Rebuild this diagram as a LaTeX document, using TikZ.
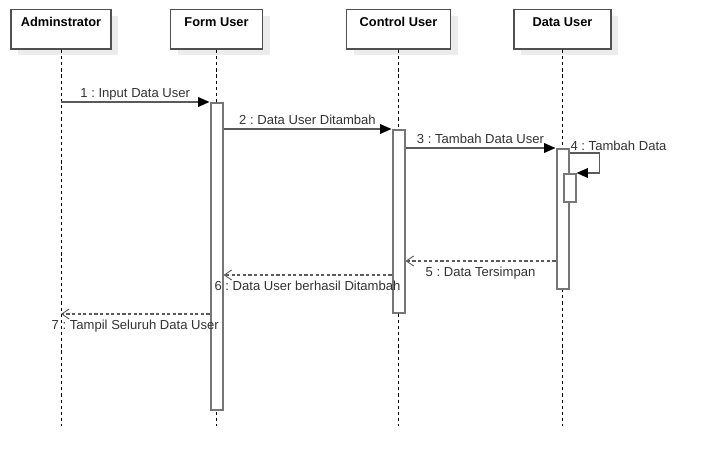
\documentclass[tikz,border=0pt]{standalone}
\usepackage{fontspec}
\setmainfont{Liberation Sans}
\definecolor{headgray}{RGB}{80, 80, 80}
\definecolor{bargray}{RGB}{118, 118, 118}
\definecolor{msggray}{RGB}{90, 90, 90}
\definecolor{textgray}{RGB}{51, 51, 51}
\definecolor{shadowgray}{RGB}{236, 236, 236}
\usetikzlibrary{arrows.meta, positioning, calc, shadows}
\frenchspacing

\begin{document}
\begin{tikzpicture}[x=0.75pt, y=-0.75pt,
    head/.style={draw=headgray, line width=1.1pt, fill=white, font=\fontsize{9.6}{11}\selectfont\bfseries,
      minimum height=29.6pt, inner xsep=0pt, inner ysep=5pt, text height=7.8pt, text depth=11.8pt,
      drop shadow={shadow xshift=5.25pt, shadow yshift=-4.5pt, fill=shadowgray, opacity=1}},
    lifeline/.style={black, line width=0.6pt, dash pattern=on 2.4pt off 2.2pt},
    bar/.style={draw=bargray, line width=1.5pt, fill=white, minimum width=9pt, inner sep=0pt},
    msg/.style={msggray, line width=1pt, -{Triangle[length=8.5pt, width=7.2pt, black]}},
    reply/.style={msggray, line width=1pt, dash pattern=on 2.4pt off 1.8pt, -{Straight Barb[length=5.5pt, width=7.5pt, line width=0.7pt]}},
    lbl/.style={text=textgray, font=\fontsize{9.8}{11}\selectfont, inner sep=0.6pt}]
  \useasboundingbox (0, 0) rectangle (704, 466);

  % Lifeline heads
  \node[head, minimum width=75pt] (admin) at (61, 29.5) {Adminstrator};
  \node[head, minimum width=69pt] (form) at (216.5, 29.5) {Form User};
  \node[head, minimum width=78pt] (ctrl) at (398.5, 29.5) {Control User};
  \node[head, minimum width=72.75pt] (data) at (562.5, 29.5) {Data User};

  % Lifelines
  \foreach \obj in {admin, form, ctrl, data} {
    \coordinate (\obj end) at ($(\obj.south) + (0, 376)$);
    \draw[lifeline] (\obj.south) -- (\obj end);
  }

  % Activation bars
  \node[bar, minimum height=230.25pt] (formbar) at (216.5, 256.5) {};
  \node[bar, minimum height=137.25pt] (ctrlbar) at (398.5, 221.5) {};
  \node[bar, minimum height=105pt] (databar) at (562.5, 219) {};
  \node[bar, minimum height=21pt] (subbar) at (569.5, 188) {};

  % Messages
  \draw[msg] (adminend |- formbar.north) -- (formbar.north west)
    node[lbl, midway, anchor=base, yshift=3pt] {1 : Input Data User};
  \draw[msg] (formbar.east |- ctrlbar.north) -- (ctrlbar.north west)
    node[lbl, midway, anchor=base, yshift=3pt] {2 : Data User Ditambah};
  \draw[msg] (ctrlbar.east |- databar.north) -- (databar.north west)
    node[lbl, midway, anchor=base, yshift=3pt] {3 : Tambah Data User};
  \draw[msg] ($(databar.north east) + (0, 5)$) -- ++(30, 0) |- (subbar.north east);
  \node[lbl, anchor=base west] (selflbl) at ($(databar.north east) + (0, 2.5)$) {4 : Tambah Data};

  % Replies
  \coordinate (r5) at ($(databar.south west) + (0, -29)$);
  \draw[reply] (r5) -- (ctrlbar.east |- r5)
    node[lbl, midway, below=3.2pt] {5 : Data Tersimpan};
  \coordinate (r6) at ($(ctrlbar.south west) + (0, -39)$);
  \draw[reply] (r6) -- (formbar.east |- r6)
    node[lbl, midway, below=3.2pt] {6 : Data User berhasil Ditambah};
  \draw[reply] (formbar.west |- ctrlbar.south) -- (adminend |- ctrlbar.south)
    node[lbl, midway, below=3.2pt] {7 : Tampil Seluruh Data User};
\end{tikzpicture}
\end{document}
